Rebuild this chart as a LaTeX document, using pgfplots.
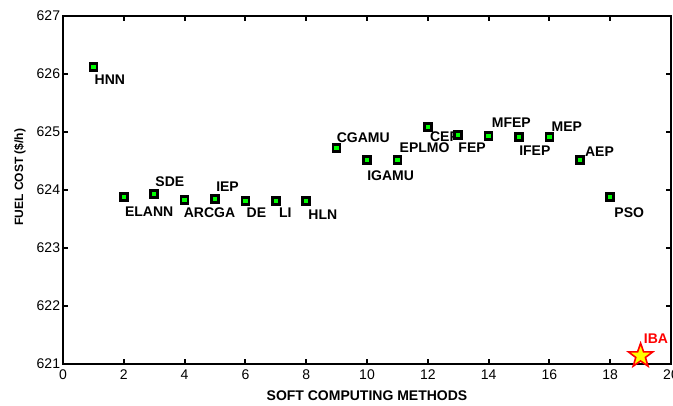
\documentclass[border=0pt]{standalone}
\usepackage{fontspec}
\setmainfont{Liberation Sans}
\usepackage{pgfplots}
\pgfplotsset{compat=1.18}
\definecolor{mgreen}{RGB}{0,255,0}
\definecolor{mred}{RGB}{255,0,0}
\definecolor{myellow}{RGB}{255,255,0}

% filled five-pointed star
\pgfdeclareplotmark{fstar}{%
  \pgfpathmoveto{\pgfpointpolar{90}{\pgfplotmarksize}}%
  \pgfpathlineto{\pgfpointpolar{126}{0.40\pgfplotmarksize}}%
  \pgfpathlineto{\pgfpointpolar{162}{\pgfplotmarksize}}%
  \pgfpathlineto{\pgfpointpolar{198}{0.40\pgfplotmarksize}}%
  \pgfpathlineto{\pgfpointpolar{234}{\pgfplotmarksize}}%
  \pgfpathlineto{\pgfpointpolar{270}{0.40\pgfplotmarksize}}%
  \pgfpathlineto{\pgfpointpolar{306}{\pgfplotmarksize}}%
  \pgfpathlineto{\pgfpointpolar{342}{0.40\pgfplotmarksize}}%
  \pgfpathlineto{\pgfpointpolar{18}{\pgfplotmarksize}}%
  \pgfpathlineto{\pgfpointpolar{54}{0.40\pgfplotmarksize}}%
  \pgfpathclose
  \pgfusepathqfillstroke
}

\begin{document}
\begin{tikzpicture}
\begin{axis}[
  name=ax,
  scale only axis,
  width=456pt, height=261pt,
  xmin=0, xmax=20, ymin=621, ymax=627,
  xtick={0,2,...,20}, ytick={621,...,627},
  axis line style={line width=1.6pt},
  tick style={line width=1.6pt, black},
  tick align=inside,
  major tick length=4pt,
  tick label style={font=\fontsize{10.5}{12}\selectfont, /pgf/number format/assume math mode=true},
  /pgf/number format/1000 sep={},
  yticklabel style={inner sep=2pt},
  xticklabel style={inner sep=2pt, yshift=-2pt},
  xlabel={SOFT COMPUTING METHODS},
  ylabel={FUEL COST (\$/h)},
  xlabel style={font=\bfseries\fontsize{10.5}{12}\selectfont, at={(axis description cs:0.5,-0.092)}, anchor=center},
  ylabel style={font=\bfseries\fontsize{9}{11}\selectfont, at={(axis description cs:-0.0707,0.537)}, anchor=center},
  clip=false,
]
\addplot[only marks, mark=square*, mark size=2.6pt,
  mark options={draw=black, fill=mgreen, line width=2pt}]
coordinates {
  (1,626.12) (2,623.88) (3,623.93) (4,623.83) (5,623.84) (6,623.81)
  (7,623.81) (8,623.81) (9,624.72) (10,624.52) (11,624.52) (12,625.09)
  (13,624.95) (14,624.93) (15,624.91) (16,624.91) (17,624.52) (18,623.88)
};
\addplot[only marks, mark=fstar, mark size=9.5pt,
  mark options={draw=mred, fill=myellow, line width=1.2pt}]
coordinates {(19,621.14)};

\tikzset{lab/.style={anchor=west, inner sep=0pt, font=\bfseries\fontsize{10.5}{12}\selectfont}}
\node[lab, xshift=0.75pt, yshift=-9.75pt] at (axis cs:1,626.12) {HNN};
\node[lab, xshift=0.75pt, yshift=-11.25pt] at (axis cs:2,623.88) {ELANN};
\node[lab, xshift=0.75pt, yshift=9pt] at (axis cs:3,623.93) {SDE};
\node[lab, xshift=-0.75pt, yshift=-9.75pt] at (axis cs:4,623.83) {ARCGA};
\node[lab, xshift=0.75pt, yshift=9.75pt] at (axis cs:5,623.84) {IEP};
\node[lab, xshift=0.75pt, yshift=-9pt] at (axis cs:6,623.81) {DE};
\node[lab, xshift=2.25pt, yshift=-9pt] at (axis cs:7,623.81) {LI};
\node[lab, xshift=1.5pt, yshift=-10.5pt] at (axis cs:8,623.81) {HLN};
\node[lab, xshift=0pt, yshift=8.25pt] at (axis cs:9,624.72) {CGAMU};
\node[lab, xshift=0pt, yshift=-12pt] at (axis cs:10,624.52) {IGAMU};
\node[lab, xshift=1.5pt, yshift=9pt] at (axis cs:11,624.52) {EPLMO};
\node[lab, xshift=1.5pt, yshift=-7.5pt] at (axis cs:12,625.09) {CEP};
\node[lab, xshift=0pt, yshift=-9.75pt] at (axis cs:13,624.95) {FEP};
\node[lab, xshift=2.25pt, yshift=9.75pt] at (axis cs:14,624.93) {MFEP};
\node[lab, xshift=0pt, yshift=-9.75pt] at (axis cs:15,624.91) {IFEP};
\node[lab, xshift=1.5pt, yshift=8.25pt] at (axis cs:16,624.91) {MEP};
\node[lab, xshift=3.75pt, yshift=6pt] at (axis cs:17,624.52) {AEP};
\node[lab, xshift=3pt, yshift=-12pt] at (axis cs:18,623.88) {PSO};
\node[lab, xshift=2.25pt, yshift=12.75pt, text=mred] at (axis cs:19,621.14) {IBA};
\end{axis}
\pgfresetboundingbox
\path ([xshift=-47.25pt,yshift=-30.75pt]ax.south west) rectangle ([xshift=1.5pt,yshift=12pt]ax.north east);
\end{tikzpicture}
\end{document}
